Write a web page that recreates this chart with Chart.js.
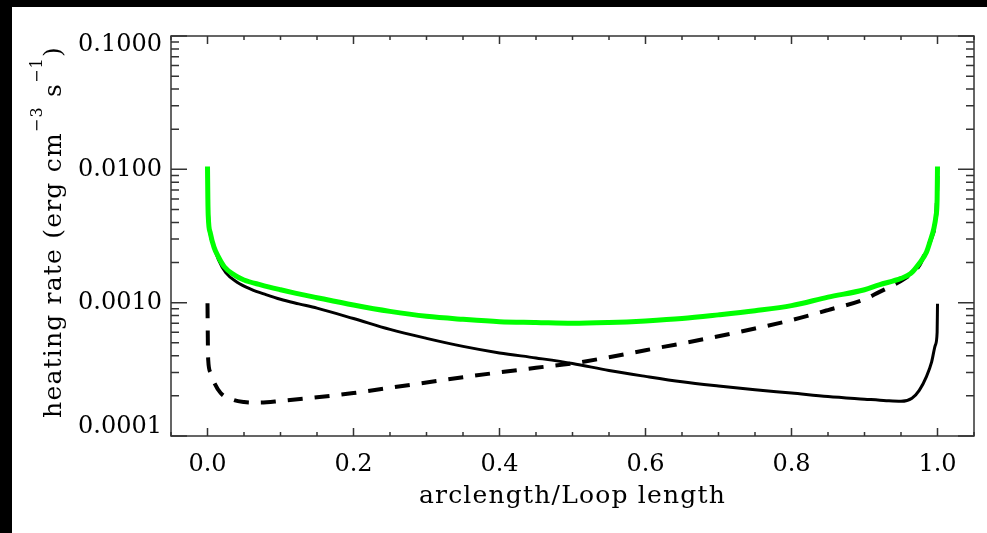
<!DOCTYPE html>
<html>
<head>
<meta charset="utf-8">
<script src="https://cdn.jsdelivr.net/npm/chart.js@4.4.1/dist/chart.umd.min.js"></script>
<style>
  html, body { margin: 0; padding: 0; background: #000; }
  #wrap { position: absolute; left: 12px; top: 7px; width: 975px; height: 526px; background: #fff; }
</style>
</head>
<body>
<div id="wrap"><canvas id="heatChart"></canvas></div>
<script>
// heating along the loop, footpoint at s=0 (solid) and at s=1 (dashed), total in green
const solidX = [0, 0.001, 0.003, 0.008, 0.015, 0.025, 0.04, 0.06, 0.08, 0.1, 0.125, 0.15, 0.2, 0.25, 0.3, 0.35, 0.4,
                0.45, 0.5, 0.55, 0.6, 0.65, 0.7, 0.75, 0.8, 0.85, 0.9, 0.93, 0.95, 0.965, 0.975, 0.985, 0.992, 0.997,
                0.9995, 1.0];
const solidY = [0.0095, 0.0052, 0.0035, 0.0027, 0.0021, 0.00168, 0.00143, 0.00126, 0.00115, 0.00106, 0.00098, 0.00091,
                0.00076, 0.00063, 0.00054, 0.00047, 0.00042, 0.000385, 0.00035, 0.00031, 0.00028, 0.000255, 0.000237,
                0.000222, 0.00021, 0.000198, 0.000189, 0.000184, 0.000182, 0.000192, 0.00022, 0.00028, 0.00036,
                0.00048, 0.0006, 0.00098];

const dashedX = [0, 0.0005, 0.001, 0.004, 0.008, 0.018, 0.035, 0.05, 0.07, 0.1, 0.15, 0.2, 0.25, 0.3, 0.35, 0.4, 0.45,
                 0.5, 0.55, 0.6, 0.65, 0.7, 0.75, 0.8, 0.85, 0.9, 0.92, 0.94, 0.96, 0.975, 0.985, 0.992, 0.997, 0.999, 1.0];
const dashedY = [0.00099, 0.0005, 0.00037, 0.0003, 0.00026, 0.00021, 0.000187, 0.00018, 0.000178, 0.000183, 0.000195,
                 0.00021, 0.00023, 0.000252, 0.000276, 0.0003, 0.000325, 0.00035, 0.00039, 0.00044, 0.000495, 0.00056,
                 0.00064, 0.00074, 0.00088, 0.00106, 0.0012, 0.00136, 0.00158, 0.0019, 0.0025, 0.0031, 0.004, 0.0055, 0.0095];

const totalX = [0, 0.0005, 0.001, 0.004, 0.009, 0.015, 0.023, 0.037, 0.05, 0.073, 0.1, 0.12, 0.15, 0.2, 0.25, 0.3, 0.35,
                0.4, 0.45, 0.5, 0.55, 0.6, 0.65, 0.7, 0.75, 0.8, 0.85, 0.9, 0.92, 0.95, 0.963, 0.975, 0.985, 0.99,
                0.995, 0.998, 0.9995, 1.0];
const totalY = [0.0105, 0.006, 0.0045, 0.0033, 0.0026, 0.0022, 0.00186, 0.00161, 0.00148, 0.00136, 0.00125, 0.00118,
                0.00109, 0.00096, 0.00086, 0.00079, 0.00075, 0.00072, 0.00071, 0.0007, 0.00071, 0.00073, 0.00076,
                0.00081, 0.00087, 0.00095, 0.0011, 0.00125, 0.00136, 0.00152, 0.00165, 0.00197, 0.0024, 0.0029,
                0.0036, 0.0045, 0.006, 0.0105];

// axis ticks
const xMajor = [0, 0.2, 0.4, 0.6, 0.8, 1.0];
const xMinor = [-0.05, 0.05, 0.1, 0.15, 0.25, 0.3, 0.35, 0.45, 0.5, 0.55, 0.65, 0.7, 0.75, 0.85, 0.9, 0.95, 1.05];
const yMajor = [0.0001, 0.001, 0.01, 0.1];
const yLabels = ['0.0001', '0.0010', '0.0100', '0.1000'];
const yMinorSteps = [2, 3, 4, 5, 6, 7, 8, 9];

const xTitle = 'arclength/Loop length';
// [text, superscript?]
const yTitle = [['heating rate (erg cm', false], ['\u22123', true], [' s', false], ['\u22121', true], [')', false]];

const FONT = '"DejaVu Serif", "Liberation Serif", serif';
const AXIS_COLOR = '#333';

const pts = (xs, ys) => xs.map((x, i) => ({ x: x, y: ys[i] }));

// box with inward ticks on all four sides
const frameTicks = {
    id: 'frameTicks',
    afterDatasetsDraw(chart) {
        const { ctx, chartArea: a, scales: { x, y } } = chart;
        ctx.save();
        ctx.strokeStyle = AXIS_COLOR;
        ctx.lineWidth = 1.5;
        ctx.strokeRect(a.left, a.top, a.right - a.left, a.bottom - a.top);

        ctx.beginPath();
        const xTick = (v, len) => {
            const px = x.getPixelForValue(v);
            ctx.moveTo(px, a.bottom); ctx.lineTo(px, a.bottom - len);
            ctx.moveTo(px, a.top); ctx.lineTo(px, a.top + len);
        };
        xMajor.forEach(v => xTick(v, 8));
        xMinor.forEach(v => xTick(v, 4));

        const yTick = (v, len) => {
            const py = y.getPixelForValue(v);
            ctx.moveTo(a.left, py); ctx.lineTo(a.left + len, py);
            ctx.moveTo(a.right, py); ctx.lineTo(a.right - len, py);
        };
        yMajor.forEach(v => yTick(v, 16));
        yMajor.slice(0, -1).forEach(d => yMinorSteps.forEach(m => yTick(m * d, 8)));
        ctx.stroke();
        ctx.restore();
    }
};

// axis titles, the y one needs superscripts
const axisTitles = {
    id: 'axisTitles',
    afterDraw(chart) {
        const { ctx, chartArea: a } = chart;
        ctx.save();
        ctx.fillStyle = '#000';
        ctx.textBaseline = 'alphabetic';
        ctx.letterSpacing = '1.2px';

        ctx.font = '25px ' + FONT;
        ctx.textAlign = 'center';
        ctx.fillText(xTitle, (a.left + a.right) / 2, 496);

        const big = '25px ' + FONT, small = '16px ' + FONT;
        let total = 0;
        yTitle.forEach(([t, sup]) => { ctx.font = sup ? small : big; total += ctx.measureText(t).width; });
        ctx.translate(49, (a.top + a.bottom) / 2 - 4);
        ctx.rotate(-Math.PI / 2);
        ctx.textAlign = 'left';
        let pos = -total / 2;
        yTitle.forEach(([t, sup]) => {
            ctx.font = sup ? small : big;
            ctx.fillText(t, pos, sup ? -19 : 0);
            pos += ctx.measureText(t).width;
        });
        ctx.restore();
    }
};

const ctx = document.getElementById('heatChart').getContext('2d');
new Chart(ctx, {
    type: 'line',
    data: {
        datasets: [
            { data: pts(totalX, totalY), borderColor: '#00ff00', borderWidth: 5 },
            { data: pts(solidX, solidY), borderColor: '#000', borderWidth: 3 },
            { data: pts(dashedX, dashedY), borderColor: '#000', borderWidth: 4, borderDash: [15, 12] }
        ]
    },
    options: {
        responsive: true,
        maintainAspectRatio: false,
        animation: false,
        layout: { padding: { top: 29, right: 13, left: 0, bottom: 0 } },
        elements: {
            point: { radius: 0 },
            line: { cubicInterpolationMode: 'monotone', borderCapStyle: 'butt', fill: false }
        },
        plugins: { legend: { display: false }, tooltip: { enabled: false } },
        scales: {
            x: {
                type: 'linear', min: -0.05, max: 1.05,
                afterBuildTicks: s => { s.ticks = xMajor.map(v => ({ value: v })); },
                afterFit: s => { s.height = 97; },
                grid: { display: false, drawTicks: false },
                border: { display: false },
                ticks: {
                    padding: 14, color: '#000', autoSkip: false, maxRotation: 0,
                    font: { family: FONT, size: 24 },
                    callback: v => v.toFixed(1)
                }
            },
            y: {
                type: 'logarithmic', min: 0.0001, max: 0.1,
                afterBuildTicks: s => { s.ticks = yMajor.map(v => ({ value: v })); },
                afterFit: s => { s.width = 159; },
                grid: { display: false, drawTicks: false },
                border: { display: false },
                ticks: {
                    padding: 9, color: '#000', autoSkip: false,
                    // end labels sit inside the axis range
                    font: c => ({ family: FONT, size: 24, lineHeight: (c.index === 0 || c.index === 3) ? '18px' : 1.2 }),
                    callback: (v, i) => {
                        if (i === 0) return [yLabels[0], ''];
                        if (i === yLabels.length - 1) return ['', yLabels[i]];
                        return yLabels[i];
                    }
                }
            }
        }
    },
    plugins: [frameTicks, axisTitles]
});
</script>
</body>
</html>
